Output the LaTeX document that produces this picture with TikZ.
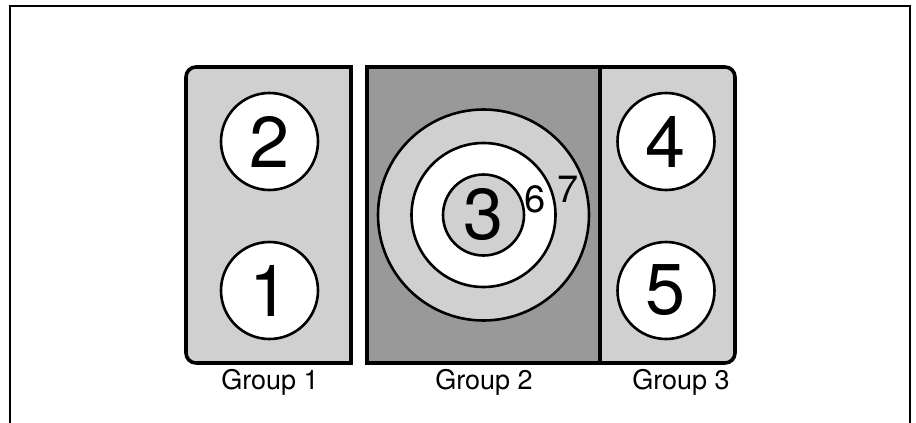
\documentclass[tikz,border=0pt]{standalone}
\usepackage{fontspec}
\setmainfont{TeX Gyre Heros}
\usetikzlibrary{positioning}
\definecolor{lightgrp}{gray}{0.815}
\definecolor{darkgrp}{gray}{0.6}

\begin{document}
\begin{tikzpicture}[x=0.5pt,y=-0.5pt,
  box/.style={line width=1.8pt},
  disc/.style={circle, draw, line width=1.3pt, fill=white, inner sep=0pt,
    minimum size=48.5pt, font=\fontsize{36}{36}\selectfont},
  small/.style={inner sep=0pt, font=\fontsize{19}{19}\selectfont},
  grouplabel/.style={inner sep=0pt, font=\fontsize{13.5}{14}\selectfont}]
\useasboundingbox (0,0) rectangle (916,423);
\draw[line width=1.2pt] (10,423) -- (10,6) -- (910,6) -- (910,423);
% group boxes
\fill[lightgrp] (351,363) [rounded corners=5pt] -- (186,363) -- (186,67) [sharp corners] -- (351,67) -- cycle;
\fill[darkgrp] (367,67) rectangle (600,363);
\fill[lightgrp] (600,67) [rounded corners=5pt] -- (735,67) -- (735,363) [sharp corners] -- (600,363) -- cycle;
\draw[box] (351,363) [rounded corners=5pt] -- (186,363) -- (186,67) [sharp corners] -- (351,67) -- cycle;
\draw[box] (367,67) [rounded corners=5pt] -- (735,67) -- (735,363) [sharp corners] -- (367,363) -- cycle;
\draw[box] (600,67) -- (600,363);
% single discs
\foreach \n/\x/\y in {2/269.5/141.5, 1/269.5/290.5, 4/666/141.5, 5/666/290.5}
  \node[disc] (n\n) at (\x,\y) {\n};
% nested rings
\node[disc, minimum size=105.5pt, fill=lightgrp] (ring7) at (483.5,215) {};
\node[disc, minimum size=72pt] (ring6) at (ring7.center) {};
\node[disc, minimum size=40.5pt, fill=lightgrp] (n3) at (ring7.center) {3};
\node[small] (l6) at (535,199) {6};
\node[small] (l7) at (568,189) {7};
% labels
\node[grouplabel] (g1) at (270,382) {Group 1};
\node[grouplabel] (g2) at (484,382) {Group 2};
\node[grouplabel] (g3) at (681,382) {Group 3};
\end{tikzpicture}
\end{document}
